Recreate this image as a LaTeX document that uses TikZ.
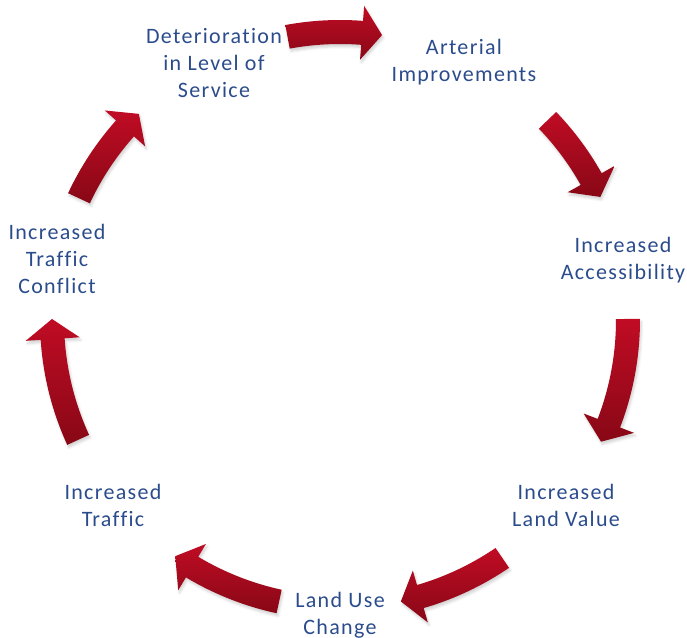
\documentclass[tikz,border=0pt]{standalone}
\usepackage{fontspec}
\setmainfont[LetterSpace=6,Ligatures=CommonOff]{Carlito}
\usetikzlibrary{shadows.blur}
\definecolor{cyclered}{RGB}{192,12,36}
\definecolor{cycledark}{RGB}{136,8,22}
\definecolor{cycleblue}{RGB}{43,76,140}

\begin{document}
\begin{tikzpicture}
[x=0.75pt,y=0.75pt,%
  every node/.style={align=center,text=cycleblue,font=\fontsize{16.5}{20.25}\selectfont},%
  cyclearrow/.style={top color=cyclered,bottom color=cycledark,
    blur shadow={shadow xshift=1pt,shadow yshift=-2pt,shadow opacity=18}}]
\useasboundingbox (0,0) rectangle (687,638);
\node (service)  at (214,575) {Deterioration\\in Level of\\Service};
\node (arterial) at (464,576) {Arterial\\Improvements};
\node (access)   at (623,378) {Increased\\Accessibility};
\node (value)    at (566,133) {Increased\\Land Value};
\node (landuse)  at (340,23)  {Land Use\\Change};
\node (traffic)  at (113,133) {Increased\\Traffic};
\node (conflict) at (57,379)  {Increased\\Traffic\\Conflict};
% block arrows round the cycle, tail angle / tip angle
\begin{scope}[shift={(340,318)}]
\foreach \a/\b in {100.5/81.6,43.9/25.3,0.2/-25,-55.7/-77.8,
                   -102.2/-124.9,204.6/179.8,155/134.3}
  \shade[cyclearrow] (\a:300) arc[start angle=\a,end angle=\b+4,radius=300]
    -- (\b+4:315) -- (\b:288) -- (\b+4:261) -- (\b+4:276)
    arc[start angle=\b+4,end angle=\a,radius=276] -- cycle;
\end{scope}
\end{tikzpicture}
\end{document}
